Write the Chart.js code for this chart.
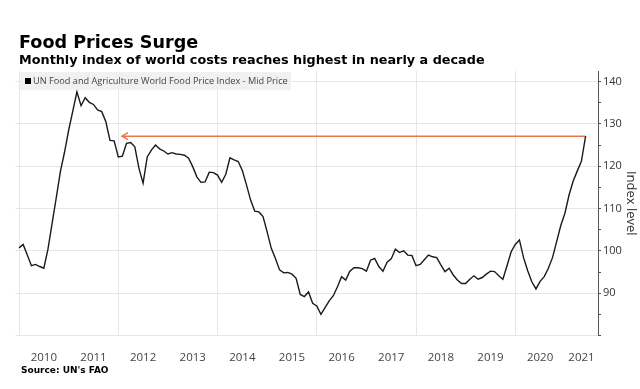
<!DOCTYPE html>
<html>
<head>
<meta charset="utf-8">
<script src="https://cdn.jsdelivr.net/npm/chart.js@4.4.0/dist/chart.umd.min.js"></script>
<style>
  html, body { margin: 0; padding: 0; background: #fff; }
  #wrap { position: relative; width: 640px; height: 389px; overflow: hidden; }
  #chart { position: absolute; left: 0; top: 0; }
  .txt { position: absolute; white-space: nowrap; line-height: 1; color: #000; }
  #title { left: 19px; top: 32px; font: bold 17.6px "DejaVu Sans"; }
  #subtitle { left: 19px; top: 52px; font: bold 12.8px "DejaVu Sans"; }
  #source { left: 21px; top: 365px; font: bold 9px "DejaVu Sans"; }
  #legend { position: absolute; left: 20px; top: 72px; width: 271px; height: 18px;
            background: rgba(240,240,240,0.9); }
  #legend .sq { position: absolute; left: 5px; top: 6px; width: 6px; height: 6px; background: #000; }
  #legend .lbl { position: absolute; left: 13px; top: 4px; font: 9.2px "Open Sans"; color: #444; line-height: 1; white-space: nowrap; }
</style>
</head>
<body>
<div id="wrap">
  <canvas id="chart" width="640" height="389"></canvas>
  <div id="title" class="txt">Food Prices Surge</div>
  <div id="subtitle" class="txt">Monthly index of world costs reaches highest in nearly a decade</div>
  <div id="legend"><div class="sq"></div><div class="lbl" id="legendText"></div></div>
  <div id="source" class="txt">Source: UN's FAO</div>
</div>
<script>
// monthly values, Dec 2009 .. May 2021 (plotted at month end)
var seriesLabel = 'UN Food and Agriculture World Food Price Index - Mid Price';
var foodIndex = [
    100.7, 101.5, 99.0, 96.5, 96.8, 96.3, 95.9, 100.4, 106.5, 112.5,
    118.7, 123.3, 128.5, 133.0, 137.6, 134.3, 136.2, 135.1, 134.6, 133.3,
    132.9, 130.5, 126.1, 126.0, 122.2, 122.4, 125.4, 125.6, 124.6, 119.5,
    116.0, 122.2, 123.8, 125.0, 124.1, 123.6, 122.9, 123.2, 122.9, 122.8,
    122.6, 121.9, 119.9, 117.5, 116.2, 116.3, 118.6, 118.5, 117.9, 116.2,
    118.1, 122.0, 121.5, 121.1, 119.0, 115.6, 112.0, 109.4, 109.2, 108.1,
    104.5, 100.6, 98.2, 95.5, 94.8, 94.9, 94.5, 93.5, 89.7, 89.2,
    90.3, 87.6, 87.0, 85.0, 86.6, 88.2, 89.4, 91.5, 93.9, 93.1,
    95.2, 96.0, 96.0, 95.8, 95.2, 97.8, 98.2, 96.3, 95.2, 97.3,
    98.1, 100.4, 99.6, 100.0, 99.0, 98.9, 96.5, 96.8, 97.9, 99.0,
    98.6, 98.4, 96.7, 95.1, 95.9, 94.3, 93.1, 92.3, 92.3, 93.3,
    94.1, 93.3, 93.7, 94.5, 95.2, 95.1, 94.1, 93.3, 96.5, 99.8,
    101.5, 102.6, 98.4, 95.3, 92.7, 91.0, 92.8, 93.9, 95.9, 98.4,
    102.2, 106.0, 108.9, 113.2, 116.5, 118.9, 121.2, 127.1
];
var years = ['2010', '2011', '2012', '2013', '2014', '2015', '2016', '2017', '2018', '2019', '2020', '2021'];
var yTickValues = [80, 85, 90, 95, 100, 105, 110, 115, 120, 125, 130, 135, 140];
var arrowStart = 24.9;   // month index where the "highest since" arrow points

var xMin = -0.85, xMax = 140;

// year label positions (month index of mid-year) and gridlines every 2 years
var labelPos = {};
var xTickValues = [];
years.forEach(function (y, k) {
    var start = k * 12;
    var end = Math.min(start + 12, xMax);
    var mid = (start + end) / 2;
    labelPos[mid] = y;
    xTickValues.push(mid);
    if (k % 2 === 0) xTickValues.push(start);
});
xTickValues.sort(function (a, b) { return a - b; });

function isGridTick(v) {
    return !(v in labelPos);
}

var lineData = foodIndex.map(function (v, i) { return { x: i, y: v }; });
var latest = foodIndex[foodIndex.length - 1];
var arrowData = [{ x: arrowStart, y: latest }, { x: foodIndex.length - 1, y: latest }];

document.getElementById('legendText').textContent = seriesLabel;

var arrowHead = {
    id: 'arrowHead',
    afterDatasetsDraw: function (chart) {
        var meta = chart.getDatasetMeta(1);
        var p = meta.data[0];
        var ctx = chart.ctx;
        ctx.save();
        ctx.strokeStyle = '#e8784c';
        ctx.lineWidth = 1.5;
        ctx.beginPath();
        ctx.moveTo(p.x + 6, p.y - 3.5);
        ctx.lineTo(p.x, p.y);
        ctx.lineTo(p.x + 6, p.y + 3.5);
        ctx.stroke();
        ctx.restore();
    }
};

var ctx = document.getElementById('chart');
var chart = new Chart(ctx, {
    type: 'line',
    data: {
        datasets: [{
            label: seriesLabel,
            data: lineData,
            borderColor: '#1a1a1a',
            borderWidth: 1.4,
            pointRadius: 0,
            tension: 0
        }, {
            label: 'arrow',
            data: arrowData,
            borderColor: '#e8784c',
            borderWidth: 1.5,
            pointRadius: 0
        }]
    },
    options: {
        responsive: false,
        animation: false,
        devicePixelRatio: 1,
        layout: { padding: { left: 15.5, right: 0, top: 71, bottom: 23.5 } },
        plugins: {
            legend: { display: false },
            tooltip: { enabled: false }
        },
        scales: {
            x: {
                type: 'linear',
                min: xMin,
                max: xMax,
                afterBuildTicks: function (scale) {
                    scale.ticks = xTickValues.map(function (v) { return { value: v }; });
                },
                afterFit: function (scale) { scale.height = 30; },
                border: { display: false },
                grid: {
                    drawTicks: false,
                    color: function (c) {
                        return c.tick && isGridTick(c.tick.value) ? '#e6e6e6' : 'rgba(0,0,0,0)';
                    }
                },
                ticks: {
                    autoSkip: false,
                    maxRotation: 0,
                    padding: 15,
                    color: '#444',
                    font: { family: 'Open Sans', size: 11.5 },
                    callback: function (v) { return labelPos[v] || ''; }
                }
            },
            y: {
                position: 'right',
                min: 80,
                max: 142.5,
                afterBuildTicks: function (scale) {
                    scale.ticks = yTickValues.map(function (v) { return { value: v }; });
                },
                afterFit: function (scale) { scale.width = 42; },
                border: { color: '#555', width: 1 },
                grid: {
                    drawTicks: true,
                    tickLength: 3,
                    tickColor: '#555',
                    color: function (c) {
                        return c.tick && c.tick.value % 10 === 0 ? '#e6e6e6' : 'rgba(0,0,0,0)';
                    }
                },
                ticks: {
                    padding: 2,
                    color: '#333',
                    font: { family: 'Open Sans', size: 11 },
                    callback: function (v) { return (v % 10 === 0 && v > 80) ? v : ''; }
                },
                title: {
                    display: true,
                    text: 'Index level',
                    color: '#333',
                    font: { family: 'Open Sans', size: 13 },
                    padding: { top: 1, bottom: 0 }
                }
            }
        }
    },
    plugins: [arrowHead]
});
</script>
</body>
</html>
